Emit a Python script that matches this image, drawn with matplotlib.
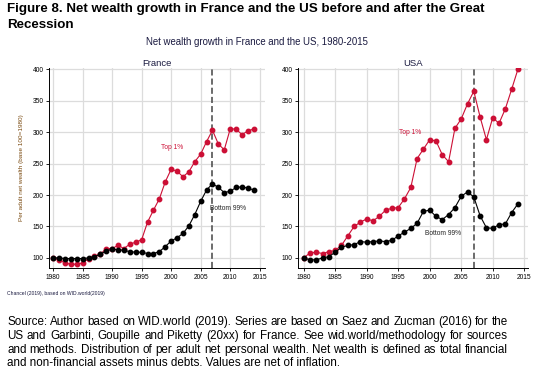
import matplotlib
matplotlib.use("Agg")
import matplotlib.pyplot as plt

plt.rcParams['font.family'] = ['Liberation Sans', 'DejaVu Sans']

years = list(range(1980, 2015))

fr_top1 = [100, 97, 92, 90, 90, 92, 99, 103, 106, 115, 115, 120, 115, 122, 125, 129,
           157, 176, 194, 221, 241, 238, 229, 237, 253, 265, 285, 303, 281, 272,
           305, 305, 296, 302, 305]
fr_bot99 = [100, 100, 99, 99, 99, 99, 100, 102, 106, 111, 114, 113, 112, 110, 109, 109,
            107, 107, 110, 118, 127, 132, 139, 151, 169, 190, 208, 218, 212, 204,
            206, 212, 213, 211, 208]
us_top1 = [100, 108, 109, 107, 110, 112, 120, 135, 150, 157, 162, 159, 166, 176, 179, 180,
           194, 212, 258, 273, 288, 286, 264, 253, 306, 321, 345, 365, 324, 288,
           323, 314, 337, 368, 400]
us_bot99 = [100, 97, 97, 100, 102, 109, 117, 120, 121, 126, 125, 126, 127, 126, 128, 135,
            141, 147, 155, 174, 176, 166, 161, 169, 180, 198, 205, 197, 167, 148,
            147, 153, 154, 172, 186]

xticks = [1980, 1985, 1990, 1995, 2000, 2005, 2010, 2015]
yticks = [100, 150, 200, 250, 300, 350, 400]
crisis_year = 2007

RED = '#cc0f35'
W, H = 550, 380
fig = plt.figure(figsize=(5.5, 3.8), dpi=100)

def setup(ax, title, xlim):
    ax.set_xlim(*xlim)
    ax.set_ylim(84, 402)
    ax.set_xticks(xticks)
    ax.set_yticks(yticks)
    ax.tick_params(labelsize=4.8, length=2.5, width=0.6, pad=1.5, colors='black')
    ax.grid(True, color='#dcdcdc', linewidth=0.9)
    ax.set_axisbelow(True)
    for s in ['top', 'right']:
        ax.spines[s].set_visible(False)
    for s in ['left', 'bottom']:
        ax.spines[s].set_linewidth(0.7)
    ax.set_title(title, fontsize=6.8, pad=1.5, color='#1a1a40')
    ax.axvline(crisis_year, color='#444444', linestyle=(0, (4, 2)), linewidth=1.1, zorder=1)

axF = fig.add_axes([49/W, 1-268/H, (265-49)/W, (268-68)/H])
axU = fig.add_axes([298/W, 1-268/H, (528-298)/W, (268-68)/H])

setup(axF, 'France', (1979.3, 2015.9))
setup(axU, 'USA', (1979.1, 2015.6))

for ax, top, bot in [(axF, fr_top1, fr_bot99), (axU, us_top1, us_bot99)]:
    ax.plot(years, top, color=RED, linewidth=0.8, marker='o', markersize=3.2, zorder=3)
    ax.plot(years, bot, color='black', linewidth=0.8, marker='o', markersize=3.2, zorder=3)

axF.text(2000.1, 275, 'Top 1%', color=RED, fontsize=4.8, ha='center', va='center')
axF.text(2006.6, 179, 'Bottom 99%', color='#222222', fontsize=4.8, ha='left', va='center')
axU.text(1996.9, 300, 'Top 1%', color=RED, fontsize=4.8, ha='center', va='center')
axU.text(2002.1, 139, 'Bottom 99%', color='#222222', fontsize=4.8, ha='center', va='center')

axF.set_ylabel('Per adult net wealth (base 100=1980)', fontsize=4.6, color='#7a4a10', labelpad=6)

fig.text(7/W, 1-9/H, 'Figure 8. Net wealth growth in France and the US before and after the Great',
         fontsize=9.6, fontweight='bold', ha='left', va='center')
fig.text(7/W, 1-25/H, 'Recession', fontsize=9.6, fontweight='bold', ha='left', va='center')
fig.text(257/W, 1-42/H, 'Net wealth growth in France and the US, 1980-2015',
         fontsize=6.9, ha='center', va='center', color='#1a1a40')
fig.text(7/W, 1-293/H, 'Chancel (2019), based on WID.world(2019)', fontsize=3.6,
         ha='left', va='center', color='#1a1a40')

source_lines = [
    "Source: Author based on WID.world (2019). Series are based on Saez and Zucman (2016) for the",
    "US and Garbinti, Goupille and Piketty (20xx) for France. See wid.world/methodology for sources",
    "and methods. Distribution of per adult net personal wealth. Net wealth is defined as total financial",
    "and non-financial assets minus debts. Values are net of inflation.",
]
fig.canvas.draw()
renderer = fig.canvas.get_renderer()
x0, x1 = 7, 508
fs = 8.4
ys = [322, 336, 350, 363]
for i, (line, yy) in enumerate(zip(source_lines, ys)):
    if i == len(source_lines) - 1:
        fig.text(x0/W, 1-yy/H, line, fontsize=fs, ha='left', va='center')
        continue
    words = line.split(' ')
    widths = []
    for w in words:
        t = fig.text(0, 0, w, fontsize=fs)
        widths.append(t.get_window_extent(renderer).width)
        t.remove()
    gap = ((x1 - x0) - sum(widths)) / (len(words) - 1)
    x = x0
    for w, wd in zip(words, widths):
        fig.text(x/W, 1-yy/H, w, fontsize=fs, ha='left', va='center')
        x += wd + gap

fig.savefig('out.png', dpi=100)
